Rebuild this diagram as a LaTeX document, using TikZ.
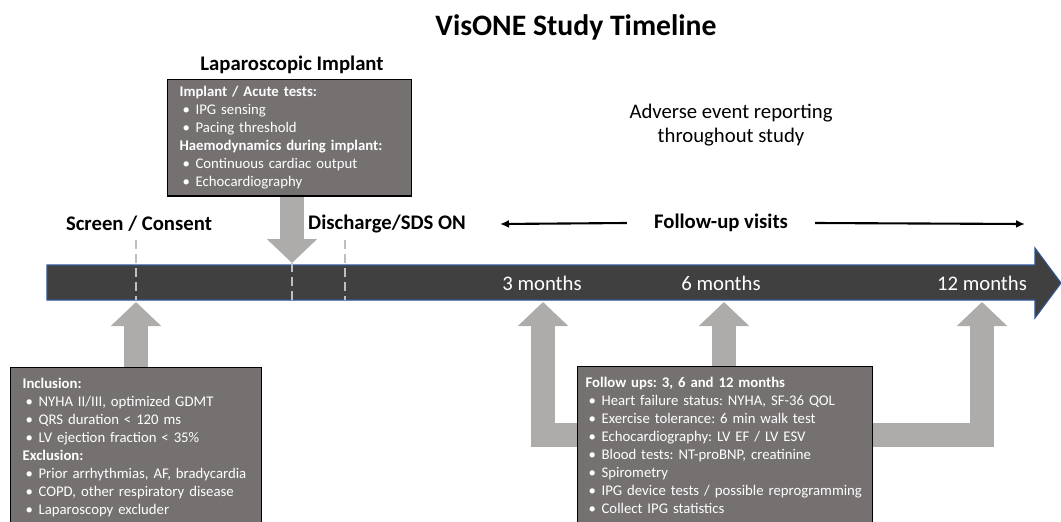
\documentclass[tikz,border=0pt]{standalone}
\usepackage{fontspec}
\setmainfont{Carlito}
\usetikzlibrary{positioning,arrows.meta}
\pgfdeclarelayer{background}
\pgfsetlayers{background,main}
\frenchspacing
\definecolor{bardark}{HTML}{404040}
\definecolor{barblue}{HTML}{2F5597}
\definecolor{boxgray}{HTML}{767171}
\definecolor{arrowgray}{HTML}{AEABAB}
\definecolor{tickgray}{HTML}{BFBFBF}
\tikzset{
  infobox/.style={draw=black, line width=0.7pt, fill=boxgray, text=white, anchor=north west,
    align=left, inner xsep=0.24cm, inner ysep=0.22cm, font=\fontsize{8.4}{10.2}\selectfont},
  bigarrow/.style={draw=arrowgray, line width=0.48cm, line join=miter,
    -{Triangle[width=0.98cm,length=0.48cm]}},
  tick/.style={draw=tickgray, line width=0.8pt, dash pattern=on 5pt off 3pt},
  heading/.style={font=\bfseries\fontsize{11.8}{13}\selectfont},
  month/.style={text=white, font=\fontsize{11.8}{13}\selectfont},
  visit/.style={line width=1.2pt, -{Latex[length=0.18cm,width=0.16cm]}}
}
\newcommand{\bul}[1]{\makebox[0.32cm][l]{\hspace{0.06cm}\textbullet}\mbox{#1}}

\begin{document}
\begin{tikzpicture}[x=0.02cm,y=-0.02cm]
  \clip (0,0) rectangle (1061,521);
  % title
  \node (title) at(576,27){\bfseries\fontsize{16.9}{19}\selectfont VisONE Study Timeline};
  % timeline bar
  \draw[fill=bardark, draw=barblue, line width=0.6pt] (47,265) -- (1035,265) -- (1035,248)
    -- (1061,283) -- (1035,318) -- (1035,300) -- (47,300) -- cycle;
  % tick points on the bar
  \coordinate (scr) at(136,302);
  \coordinate (imp-tip) at(292,263);
  \coordinate (m3) at(543,302);
  \coordinate (m6) at(724,302);
  \coordinate (m12) at(982,302);
  \coordinate (band) at(0,435);
  % dashed ticks
  \draw[tick] (136,240) -- (136,300);
  \draw[tick] (292,263) -- (292,300);
  \draw[tick] (345,240) -- (345,300);
  % month labels
  \node[month] (lbl3) at(542,283){3 months};
  \node[month] (lbl6) at(721,283){6 months};
  \node[month] (lbl12) at(982,283){12 months};
  % milestone labels
  \node[heading] (screen) at(139,224){Screen / Consent};
  \node[heading] (discharge) at(387,224){Discharge/SDS ON};
  \node[heading] (lapimp) at(292,65){Laparoscopic Implant};
  \node[heading] (fuvis) at(721,223){Follow-up visits};
  \coordinate (vl) at(500,224);
  \coordinate (vr) at(1025,224);
  \draw[visit] ([xshift=-0.42cm]fuvis.west) -- (vl);
  \draw[visit] ([xshift=0.42cm]fuvis.east) -- (vr);
  % adverse events
  \node[font=\fontsize{11.8}{13.6}\selectfont, align=center] (adverse) at(731,125)
    {Adverse event reporting\\throughout study};
  % implant box
  \node[infobox, text width=4.40cm, inner ysep=0.14cm] (imp) at(167,79){%
    \textbf{Implant / Acute tests:}\\
    \bul{IPG sensing}\\
    \bul{Pacing threshold}\\
    \textbf{Haemodynamics during implant:}\\
    \bul{Continuous cardiac output}\\
    \bul{Echocardiography}};
  % inclusion box
  \node[infobox, text width=4.54cm] (incl) at(10,367){%
    \textbf{Inclusion:}\\
    \bul{NYHA II/III, optimized GDMT}\\
    \bul{QRS duration < 120 ms}\\
    \bul{LV ejection fraction < 35\%}\\
    \textbf{Exclusion:}\\
    \bul{Prior arrhythmias, AF, bradycardia}\\
    \bul{COPD, other respiratory disease}\\
    \bul{Laparoscopy excluder}};
  % follow-up box
  \node[infobox, text width=5.58cm, inner xsep=0.16cm] (fu) at(577,366){%
    \textbf{Follow ups: 3, 6 and 12 months}\\
    \bul{Heart failure status: NYHA, SF-36 QOL}\\
    \bul{Exercise tolerance: 6 min walk test}\\
    \bul{Echocardiography: LV EF / LV ESV}\\
    \bul{Blood tests: NT-proBNP, creatinine}\\
    \bul{Spirometry}\\
    \bul{IPG device tests / possible reprogramming}\\
    \bul{Collect IPG statistics}};
  % big arrows
  \begin{pgfonlayer}{background}
  \draw[bigarrow] (imp-tip |- imp.south) -- (imp-tip);
  \draw[bigarrow] (scr |- incl.north) -- (scr);
  \draw[bigarrow] (m6 |- fu.north) -- (m6);
  \draw[bigarrow] (fu.west |- band) -| (m3);
  \draw[bigarrow] (fu.east |- band) -| (m12);
  \end{pgfonlayer}
\end{tikzpicture}
\end{document}
